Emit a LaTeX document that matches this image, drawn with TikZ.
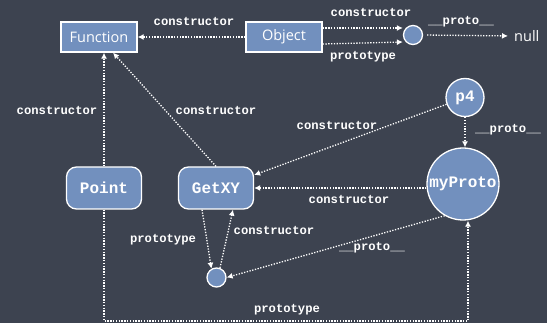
\documentclass[tikz,border=0pt]{standalone}
\usepackage{fontspec}
\setmonofont{Liberation Mono}
\newfontfamily\chalk{Open Sans}
\usetikzlibrary{arrows.meta}
\definecolor{board}{RGB}{61,67,80}
\definecolor{nodefill}{RGB}{114,144,190}
\tikzset{
  arr/.style={draw=white, line width=1.3pt, dash pattern=on 1.3pt off 1.5pt,
    -{Latex[length=6pt,width=6pt]}},
  lbl/.style={text=white, font=\fontsize{12.2}{13}\selectfont\ttfamily\bfseries, inner sep=0pt},
  box/.style={draw=white, line width=1.3pt, fill=nodefill, text=white,
    font=\fontsize{14.5}{16}\selectfont\chalk, inner sep=0pt},
  rbox/.style={draw=white, line width=1.3pt, fill=nodefill, text=white, rounded corners=10pt,
    font=\fontsize{16}{18}\selectfont\ttfamily\bfseries, inner sep=0pt,
    minimum width=75pt, minimum height=42pt},
  dot/.style={circle, draw=white, line width=1.3pt, fill=nodefill, text=white,
    font=\fontsize{16}{18}\selectfont\ttfamily\bfseries, inner sep=0pt},
}
\begin{document}
\begin{tikzpicture}[x=1pt, y=-1pt]
  \fill[board] (0,0) rectangle (547,323);
  \useasboundingbox (0,0) rectangle (547,323);

  % objects
  \node[box, minimum width=76pt, minimum height=30pt] (fun) at (99,37) {Function};
  \node[box, minimum width=76pt, minimum height=30pt] (obj) at (284,37) {Object};
  \node[dot, minimum size=19pt] (c0) at (413,35) {};
  \node[text=white, font=\fontsize{14.5}{16}\selectfont\chalk, inner sep=1pt, anchor=west] (nul) at (513,36) {null};
  \node[dot, minimum size=38pt] (p4) at (465,97.5) {p4};
  \node[dot, minimum size=72pt] (mp) at (463,184) {myProto};
  \node[rbox] (pt) at (104,188) {Point};
  \node[rbox] (gx) at (216,188) {GetXY};
  \node[dot, minimum size=19pt] (sc) at (216.5,277.5) {};
  \coordinate (bl) at (104,321);

  % connectors
  \draw[arr] (obj.west) -- (fun.east);
  \draw[arr] ([yshift=7pt]c0.west -| obj.east) -- ([yshift=7pt]c0.west);
  \draw[arr] ([yshift=-7pt]obj.east) -- ([yshift=-7pt]c0.west);
  \draw[arr, shorten <=4pt, shorten >=5pt] (c0.east) -- (nul.west);
  \draw[arr] (pt.north) -- (pt.north |- fun.south);
  \draw[arr] (gx.north) -- ([xshift=14pt]fun.south);
  \draw[arr] (p4) -- ([yshift=13pt]gx.east);
  \draw[arr] (p4.south) -- (p4.south |- mp.north);
  \draw[arr] (gx.east -| mp.west) -- (gx.east);
  \draw[arr] ([xshift=-14pt]gx.south) -- (sc.120);
  \draw[arr] (sc.70) -- ([xshift=17pt]gx.south);
  \draw[arr] (mp.240) -- (sc.east);
  \draw[arr] (pt.south) -- (pt.south |- bl) -| ([xshift=5pt]mp.south);

  % connector labels
  \node[lbl] (l1) at (194,22) {constructor};
  \node[lbl] (l2) at (371,12) {constructor};
  \node[lbl] (l3) at (363,57) {prototype};
  \node[lbl] (l4) at (461,22) {\_\_proto\_\_};
  \node[lbl] (l5) at (57,110) {constructor};
  \node[lbl] (l6) at (216,110) {constructor};
  \node[lbl] (l7) at (337,125) {constructor};
  \node[lbl] (l8) at (508,130) {\_\_proto\_\_};
  \node[lbl] (l9) at (349,199) {constructor};
  \node[lbl] (l10) at (163,240) {prototype};
  \node[lbl] (l11) at (274,230) {constructor};
  \node[lbl] (l12) at (372,248) {\_\_proto\_\_};
  \node[lbl] (l13) at (287,310) {prototype};
\end{tikzpicture}
\end{document}
